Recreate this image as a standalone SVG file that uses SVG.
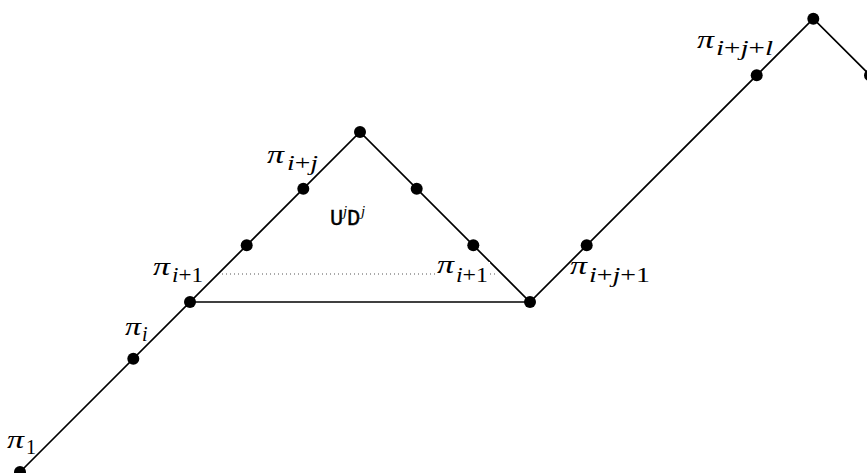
<svg xmlns="http://www.w3.org/2000/svg" width="867" height="473" viewBox="0 0 867 473">
<style>
.ln{fill:none;stroke:#000;stroke-width:1.7;stroke-linejoin:miter}
.dot{fill:#000}
.dotted{stroke:#555;stroke-width:1;stroke-dasharray:1 3}
</style>
<rect width="867" height="473" fill="#fff"/>
<g id="connectors">
<polyline class="ln" points="20,472 360,132 530,302 813.3,18.7 870,75.3"/>
<line class="ln" x1="190" y1="302" x2="530" y2="302"/>
<line class="dotted" x1="222" y1="274" x2="498" y2="274"/>
</g>
<g font-family="Liberation Serif, DejaVu Serif, serif" fill="#000">
<g id="n1"><circle class="dot" cx="20" cy="472" r="6"/>
<text x="7" y="448" font-size="25" font-style="italic" textLength="17" lengthAdjust="spacingAndGlyphs">π</text><text x="26" y="454" font-size="20">1</text></g>
<g id="ni"><circle class="dot" cx="133.3" cy="358.7" r="6"/>
<text x="125" y="335" font-size="25" font-style="italic" textLength="16" lengthAdjust="spacingAndGlyphs">π</text><text x="142" y="341" font-size="20" font-style="italic">i</text></g>
<g id="ni1"><circle class="dot" cx="190" cy="302" r="6"/>
<text x="153" y="275" font-size="25" font-style="italic" textLength="17" lengthAdjust="spacingAndGlyphs">π</text><text x="172" y="282" font-size="20" textLength="31" lengthAdjust="spacingAndGlyphs"><tspan font-style="italic">i</tspan>+1</text></g>
<g id="n4"><circle class="dot" cx="246.7" cy="245.3" r="6"/></g>
<g id="nij"><circle class="dot" cx="303.3" cy="188.7" r="6"/>
<text x="267" y="163" font-size="25" font-style="italic" textLength="17" lengthAdjust="spacingAndGlyphs">π</text><text x="287" y="170" font-size="20" textLength="31" lengthAdjust="spacingAndGlyphs"><tspan font-style="italic">i</tspan>+<tspan font-style="italic">j</tspan></text></g>
<g id="peak1"><circle class="dot" cx="360" cy="132" r="6"/></g>
<g id="n7"><circle class="dot" cx="416.7" cy="188.7" r="6"/></g>
<g id="n8"><circle class="dot" cx="473.3" cy="245.3" r="6"/></g>
<g id="label-ujdj"><text y="225" font-size="22" font-family="Liberation Mono, Courier New, monospace" stroke="#000" stroke-width="0.4"><tspan x="330">U</tspan><tspan x="343" y="216" font-size="15" font-style="italic" font-family="Liberation Serif, serif" stroke="none">j</tspan><tspan x="347" y="225">D</tspan><tspan x="361" y="216" font-size="15" font-style="italic" font-family="Liberation Serif, serif" stroke="none">j</tspan></text></g>
<g id="ni1r"><rect x="435" y="262" width="55" height="24" fill="#fff"/>
<text x="437" y="273" font-size="25" font-style="italic" textLength="17" lengthAdjust="spacingAndGlyphs">π</text><text x="456" y="282" font-size="20" textLength="32" lengthAdjust="spacingAndGlyphs"><tspan font-style="italic">i</tspan>+1</text></g>
<g id="valley"><circle class="dot" cx="530" cy="302" r="6"/></g>
<g id="nij1"><circle class="dot" cx="586.7" cy="245.3" r="6"/>
<text x="570" y="274" font-size="25" font-style="italic" textLength="17" lengthAdjust="spacingAndGlyphs">π</text><text x="589" y="282" font-size="20" textLength="61" lengthAdjust="spacingAndGlyphs"><tspan font-style="italic">i</tspan>+<tspan font-style="italic">j</tspan>+1</text></g>
<g id="nijl"><circle class="dot" cx="756.7" cy="75.3" r="6"/>
<text x="697" y="48" font-size="25" font-style="italic" textLength="17" lengthAdjust="spacingAndGlyphs">π</text><text x="716" y="55" font-size="20" textLength="57" lengthAdjust="spacingAndGlyphs"><tspan font-style="italic">i</tspan>+<tspan font-style="italic">j</tspan>+<tspan font-style="italic">l</tspan></text></g>
<g id="peak2"><circle class="dot" cx="813.3" cy="18.7" r="6"/></g>
<g id="nend"><circle class="dot" cx="870" cy="75.3" r="6"/></g>
</g>
</svg>
